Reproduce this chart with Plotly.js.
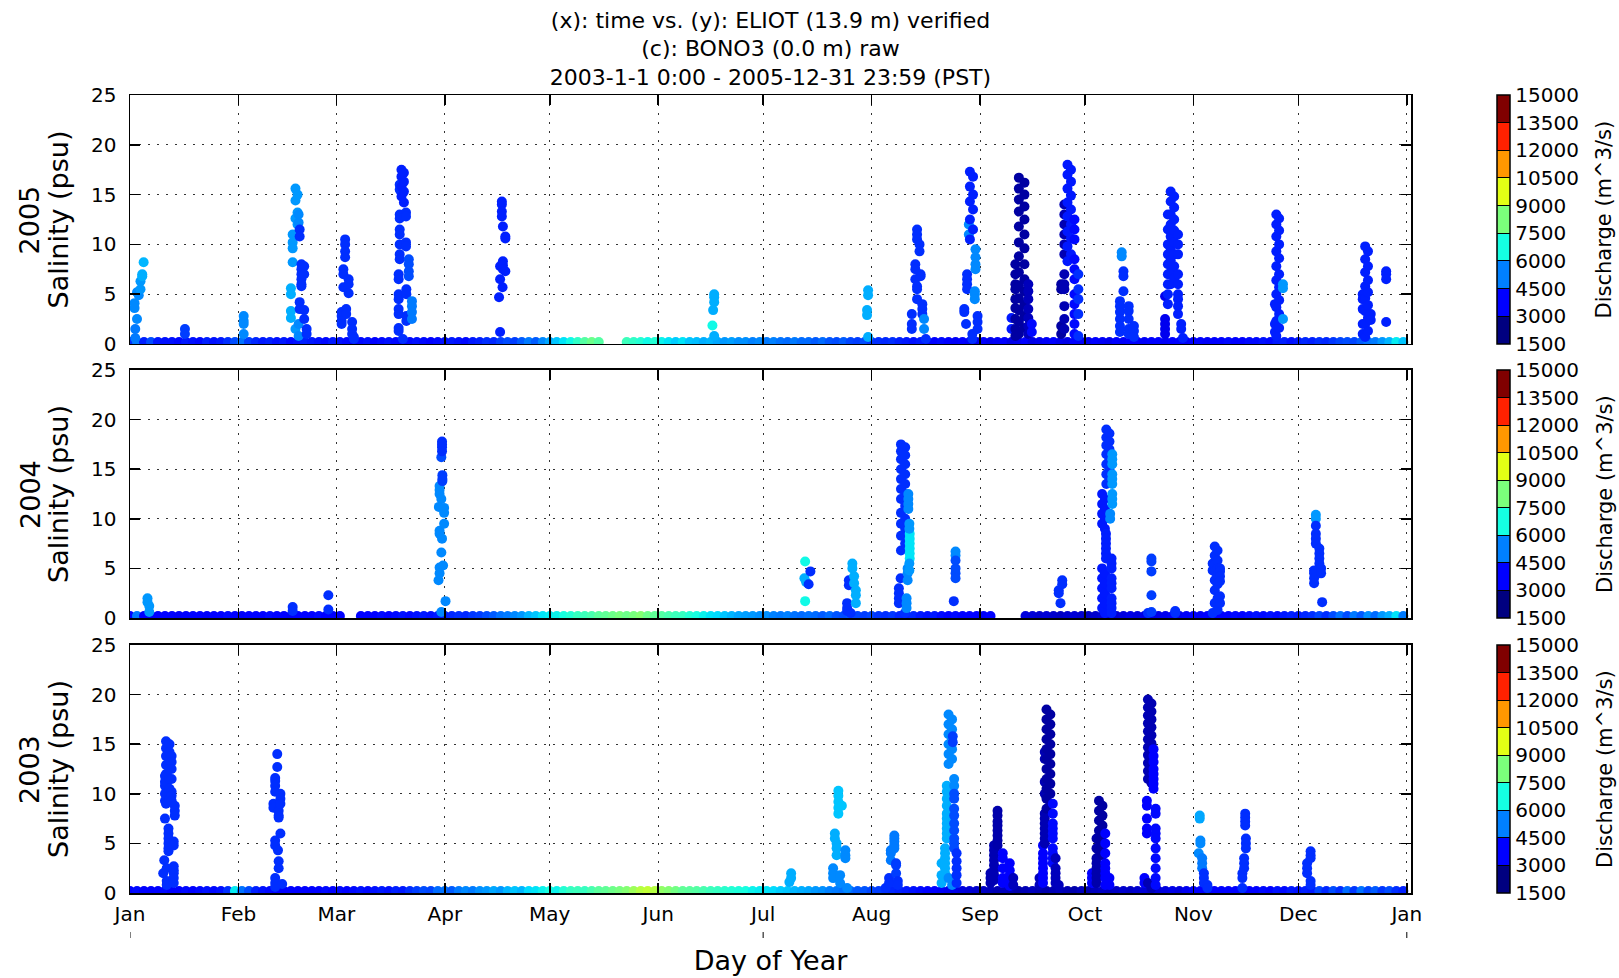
<!DOCTYPE html>
<html>
<head>
<meta charset="utf-8">
<script src="https://cdn.plot.ly/plotly-3.0.1.min.js"></script>
<style>html,body{margin:0;padding:0;background:#fff;}</style>
</head>
<body>
<div id="chart" style="width:1619px;height:978px;"></div>
<script>
// ---------- axis / label data ----------
const monthTickDays = [0,31,59,90,120,151,181,212,243,273,304,334,365];
const monthTickLabels = ['Jan','Feb','Mar','Apr','May','Jun','Jul','Aug','Sep','Oct','Nov','Dec','Jan'];
const halfYearTickDays = [0,181,365];
const salinityTicks = [0,5,10,15,20,25];
const dischargeTicks = [1500,3000,4500,6000,7500,9000,10500,12000,13500,15000];
const yearLabels = ['2005','2004','2003'];
const titleLines = ['(x): time vs. (y): ELIOT (13.9 m) verified','(c): BONO3 (0.0 m) raw','2003-1-1 0:00 - 2005-12-31 23:59 (PST)'];
const colorbarTitle = 'Discharge (m^3/s)';

// ---------- low-salinity baseline (every 2nd day of year) ----------
const baseDays = [
0,2,4,6,8,10,12,14,16,18,
20,22,24,26,28,30,32,34,36,38,
40,42,44,46,48,50,52,54,56,58,
60,62,64,66,68,70,72,74,76,78,
80,82,84,86,88,90,92,94,96,98,
100,102,104,106,108,110,112,114,116,118,
120,122,124,126,128,130,132,134,136,138,
140,142,144,146,148,150,152,154,156,158,
160,162,164,166,168,170,172,174,176,178,
180,182,184,186,188,190,192,194,196,198,
200,202,204,206,208,210,212,214,216,218,
220,222,224,226,228,230,232,234,236,238,
240,242,244,246,248,250,252,254,256,258,
260,262,264,266,268,270,272,274,276,278,
280,282,284,286,288,290,292,294,296,298,
300,302,304,306,308,310,312,314,316,318,
320,322,324,326,328,330,332,334,336,338,
340,342,344,346,348,350,352,354,356,358,
360,362,364];

const baseQ2005 = [
3800,4800,3600,4200,3500,3400,3400,3300,3500,3400,
3300,3600,3400,3500,3800,4200,4700,4000,3700,3500,
3600,3400,3500,3300,3400,3600,3500,3400,3300,3500,
3400,3300,3200,3300,3400,3200,3300,3400,3300,3200,
3300,3400,3300,3200,3300,3400,3500,3400,3300,3500,
3600,3800,3700,4000,4200,4000,4400,4800,4400,5000,
5400,5800,6200,6500,7000,7600,8000,7600,7600,7600,
7600,7200,7000,6800,6500,6800,6400,6200,5900,6200,
5800,5700,5500,5600,5400,5200,5300,5100,5100,4900,
5000,4800,4900,4700,4600,4800,4600,4600,4400,4600,
4300,4200,4400,4100,4000,4200,3900,3800,3700,3800,
3600,3500,3400,3500,3300,3200,3300,3100,2900,3100,
2900,2800,3100,2800,2900,3100,2700,2800,3100,2700,
2800,2900,3100,2800,2700,3100,2900,2800,3100,2900,
2800,3100,2900,3100,3200,2900,3100,3200,2900,3100,
3200,2900,3100,3200,2900,3100,3200,3300,3100,3200,
3300,3300,3400,3300,3500,3600,3400,3500,3700,3600,
3800,3700,3900,4100,4200,4100,4400,4700,4800,5200,
5600,6300,5800];
const baseSal2005 = [
0.2,0.2,0.2,0.2,0.2,0.2,0.2,0.2,0.2,0.2,
0.2,0.2,0.2,0.2,0.2,0.2,0.2,0.2,0.2,0.2,
0.2,0.2,0.2,0.2,0.2,0.2,0.2,0.2,0.2,0.2,
0.2,0.2,0.2,0.2,0.2,0.2,0.2,0.2,0.2,0.2,
0.2,0.2,0.2,0.2,0.2,0.2,0.2,0.2,0.2,0.2,
0.2,0.2,0.2,0.2,0.2,0.2,0.2,0.2,0.2,0.2,
0.2,0.2,0.2,0.2,0.2,0.2,0.2,0.2,null,null,
null,0.2,0.2,0.2,0.2,0.2,0.2,0.2,0.2,0.2,
0.2,0.2,0.2,0.2,0.2,0.2,0.2,0.2,0.2,0.2,
0.2,0.2,0.2,0.2,0.2,0.2,0.2,0.2,0.2,0.2,
0.2,0.2,0.2,0.2,0.2,0.2,0.2,0.2,0.2,0.2,
0.2,0.2,0.2,0.2,0.2,0.2,0.2,0.2,0.2,0.2,
0.2,0.2,0.2,0.2,0.2,0.2,0.2,0.2,0.2,0.2,
0.2,0.2,0.2,0.2,0.2,0.2,0.2,0.2,0.2,0.2,
0.2,0.2,0.2,0.2,0.2,0.2,0.2,0.2,0.2,0.2,
0.2,0.2,0.2,0.2,0.2,0.2,0.2,0.2,0.2,0.2,
0.2,0.2,0.2,0.2,0.2,0.2,0.2,0.2,0.2,0.2,
0.2,0.2,0.2,0.2,0.2,0.2,0.2,0.2,0.2,0.2,
0.2,0.2,0.2];

const baseQ2004 = [
3200,4800,3100,2900,3100,3200,3100,2900,3100,3200,
3100,2900,3100,3200,3300,3100,2900,3100,3200,3100,
3300,3200,3100,2900,3100,3200,3100,3300,3200,3100,
3100,3100,3100,3100,3200,3100,3300,3200,3300,3400,
3300,3400,3500,3400,3500,3600,3700,3800,3700,3900,
4000,4200,4400,4700,4800,5000,5200,5600,5800,6200,
6300,6400,6600,6800,7100,7200,7400,7700,7800,8000,
8200,8000,8200,8400,8000,7800,7600,7400,7200,7100,
6800,6600,6400,6200,6100,5800,5600,5400,5300,5200,
5100,5100,4900,4800,4900,4700,4600,4700,4600,4400,
4600,4300,4200,4300,4100,4000,4100,3900,3800,3900,
3700,3600,3700,3500,3400,3500,3300,3200,3300,3100,
3100,3100,2900,3100,2900,2900,2900,2900,2600,2500,
2400,2500,2400,2300,2400,2500,2400,2300,2400,2500,
2600,2500,2600,2700,2600,2700,2800,2700,2800,2900,
2800,2900,3100,2900,3100,3200,3100,3200,3300,3200,
3300,3400,3300,3400,3300,3500,3600,3500,3700,3800,
4100,3800,4200,4700,4200,4800,4400,5100,4600,5200,
5500,6200,4800];
const baseSal2004 = [
0.2,0.2,0.2,0.2,0.2,0.2,0.2,0.2,0.2,0.2,
0.2,0.2,0.2,0.2,0.2,0.2,0.2,0.2,0.2,0.2,
0.2,0.2,0.2,0.2,0.2,0.2,0.2,0.2,0.2,0.2,
0.2,null,null,0.2,0.2,0.2,0.2,0.2,0.2,0.2,
0.2,0.2,0.2,0.2,0.2,0.2,0.2,0.2,0.2,0.2,
0.2,0.2,0.2,0.2,0.2,0.2,0.2,0.2,0.2,0.2,
0.2,0.2,0.2,0.2,0.2,0.2,0.2,0.2,0.2,0.2,
0.2,0.2,0.2,0.2,0.2,0.2,0.2,0.2,0.2,0.2,
0.2,0.2,0.2,0.2,0.2,0.2,0.2,0.2,0.2,0.2,
0.2,0.2,0.2,0.2,0.2,0.2,0.2,0.2,0.2,0.2,
0.2,0.2,0.2,0.2,0.2,0.2,0.2,0.2,0.2,0.2,
0.2,0.2,0.2,0.2,0.2,0.2,0.2,0.2,0.2,0.2,
0.2,0.2,0.2,0.2,null,null,null,null,0.2,0.2,
0.2,0.2,0.2,0.2,0.2,0.2,0.2,0.2,0.2,0.2,
0.2,0.2,0.2,0.2,0.2,0.2,0.2,0.2,0.2,0.2,
0.2,0.2,0.2,0.2,0.2,0.2,0.2,0.2,0.2,0.2,
0.2,0.2,0.2,0.2,0.2,0.2,0.2,0.2,0.2,0.2,
0.2,0.2,0.2,0.2,0.2,0.2,0.2,0.2,0.2,0.2,
0.2,0.2,0.2];

const baseQ2003 = [
3200,3300,3200,3100,3200,3300,3100,3200,3300,3200,
3300,3400,3300,3400,3800,6300,4700,4200,3600,3400,
3300,3200,3100,3200,3100,3200,3100,3200,3300,3200,
3300,3200,3300,3400,3300,3400,3500,3400,3600,3500,
3800,4000,4200,4100,4600,4700,4400,4800,5000,4800,
5100,5200,5400,5200,5600,5800,5600,6100,6200,6400,
6600,6400,6800,7100,7200,7100,7400,7700,7800,8000,
8200,8400,8800,9200,9400,9200,8600,8400,8100,7800,
7700,7600,7400,7200,7100,6900,6800,6700,6600,6400,
6300,6200,6100,5900,5800,5600,5500,5400,5200,5100,
4900,4800,4700,4600,4400,4300,4100,4000,3900,3700,
3600,3500,3400,3300,3200,3100,2900,2800,2700,2600,
2500,2400,2300,2200,2100,2200,2100,2000,2100,2200,
2100,2000,2100,2200,2100,2000,2200,2100,2200,2300,
2200,2300,2400,2300,2400,2500,2400,2500,2600,2700,
2600,2800,2900,3100,2900,3100,3100,3200,3100,3200,
3100,3200,3300,3200,3400,3300,3500,3400,3600,3500,
4100,3700,4200,3800,4600,3900,4700,4100,4400,3900,
4200,3800,3600];
const baseSal2003 = [
0.2,0.2,0.2,0.2,0.2,0.2,0.2,0.2,0.2,0.2,
0.2,0.2,0.2,0.2,0.2,0.2,0.2,0.2,0.2,0.2,
0.2,0.2,0.2,0.2,0.2,0.2,0.2,0.2,0.2,0.2,
0.2,0.2,0.2,0.2,0.2,0.2,0.2,0.2,0.2,0.2,
0.2,0.2,0.2,0.2,0.2,0.2,0.2,0.2,0.2,0.2,
0.2,0.2,0.2,0.2,0.2,0.2,0.2,0.2,0.2,0.2,
0.2,0.2,0.2,0.2,0.2,0.2,0.2,0.2,0.2,0.2,
0.2,0.2,0.2,0.2,0.2,0.2,0.2,0.2,0.2,0.2,
0.2,0.2,0.2,0.2,0.2,0.2,0.2,0.2,0.2,0.2,
0.2,0.2,0.2,0.2,0.2,0.2,0.2,0.2,0.2,0.2,
0.2,0.2,0.2,0.2,0.2,0.2,0.2,0.2,0.2,0.2,
0.2,0.2,0.2,0.2,0.2,0.2,0.2,0.2,0.2,0.2,
0.2,0.2,0.2,0.2,0.2,0.2,0.2,0.2,0.2,0.2,
0.2,0.2,0.2,0.2,0.2,0.2,0.2,0.2,0.2,0.2,
0.2,0.2,0.2,0.2,0.2,0.2,0.2,0.2,0.2,0.2,
0.2,0.2,0.2,0.2,0.2,0.2,0.2,0.2,0.2,0.2,
0.2,0.2,0.2,0.2,0.2,0.2,0.2,0.2,0.2,0.2,
0.2,0.2,0.2,0.2,0.2,0.2,0.2,0.2,0.2,0.2,
0.2,0.2,0.2];

// ---------- salinity intrusion events: [day of year, discharge, [salinity readings]] ----------
const spikes2005 = [
[1.3,5000,[3.6,4.1]],[1.5,4800,[1.5,0.6]],[2.0,5000,[2.5,5.2]],[2.5,5000,[4.9]],[3.0,5200,[5.5,6.3]],[3.5,5500,[6.8,7.0]],[3.9,5600,[8.2]],
[15.7,4000,[1.5,1.0]],
[32.5,5000,[1.0,2.0,2.3,2.8]],
[46.0,5500,[5.6,5.0,3.3,2.6]],[46.5,5200,[11.0,10.2,9.6,8.2]],[47.3,5200,[15.6,14.4,12.6,1.5]],[47.9,5200,[15.0,13.2,12.0]],[48.2,5000,[13.0,12.2,2.0,0.8]],
[48.5,3800,[11.5,10.8,4.2,3.5]],[49.0,3800,[8.0,7.5,7.0,6.5,6.0,5.8]],[49.8,3800,[7.8,7.0,3.4,2.5]],[50.5,3800,[1.5,1.0]],
[60.5,3800,[3.2,2.8,2.3,2.0]],[61.0,3800,[7.5,7.0,5.7]],[61.5,3800,[10.5,10.0,9.3,8.7]],[61.8,3800,[3.5,3.0]],[62.5,3800,[6.5,6.0,5.1]],[63.5,3800,[2.2,1.5,1.0]],[64.0,3800,[0.7,0.5]],
[76.8,3800,[7.0,6.5,5.0,4.5,3.5,3.0,1.6,1.3]],[77.1,3800,[16.0,15.5,13.0,12.6,11.5,11.0,10.0,9.0,8.5]],[77.6,3600,[17.5,16.8,15.8,14.8]],[78.3,3600,[17.2,16.3,15.3,14.2]],[78.0,3800,[0.5]],
[78.9,3800,[13.2,12.8,10.2,9.8]],[79.0,3800,[5.5,5.0,2.8,2.3]],[79.7,4200,[8.5,8.0,7.3,6.8]],[80.6,4800,[4.3,3.8,3.2,2.5]],
[105.5,3600,[4.7]],[105.8,3600,[7.8,6.5,1.2]],[106.3,3600,[14.3,14.0,13.3,12.8]],[106.6,3600,[11.8,8.3,7.9,7.5]],[106.5,3600,[5.7]],[107.3,3600,[10.8,10.6,7.3]],
[167.0,5500,[5.0,4.7,4.2]],[166.7,5500,[3.4]],[166.5,6500,[1.85]],[167.0,5500,[0.8]],
[211.0,5500,[5.4,4.9]],[210.7,5500,[3.4,2.9]],[211.0,5500,[0.7]],
[223.5,3800,[3.0,2.0,1.5]],[224.5,3800,[8.0,7.5,6.5]],[225.0,3800,[11.5,11.0,10.5,5.8,5.5,4.5]],[225.7,3800,[10.0,9.3]],[226.0,3800,[7.0,6.8]],[226.5,3800,[4.0,3.5,3.0]],[227.0,5000,[2.5,1.5]],[227.5,3800,[0.5]],
[238.5,3800,[3.5,3.2]],[239.0,3800,[2.0]],[239.3,3800,[7.0,6.5,6.0,5.5]],[239.8,5000,[12.0,11.0]],[240.1,3600,[17.3,15.8,14.3,12.5,10.5]],[241.0,3600,[16.8,15.0,13.5,11.5]],[240.8,3800,[1.0,0.5]],[241.5,5000,[5.3,5.0,4.5]],[241.7,5000,[9.5,8.7,8.0,7.5]],[242.3,3800,[2.8,2.2,1.5]],
[252.0,3500,[2.6,1.5]],[253.1,1900,[8.0,7.0,6.0,5.5,4.5,3.6,2.5,1.5,0.8]],[254.1,1900,[16.7,15.6,14.5,13.3,11.8,10.2,8.8,7.2,5.9,4.6,3.4,2.2,1.0]],[255.7,1900,[16.2,15.0,13.8,12.5,11.0,9.6,8.0,6.5,5.3,4.0,2.8,1.6]],[256.8,2200,[6.0,5.3,4.5,3.5,2.6,1.8,1.0]],[257.8,3300,[2.0,1.2]],
[266.2,1900,[6.0,5.5,1.8,1.0]],[267.1,2100,[14.0,13.0,12.0,11.0,10.0,9.0,7.0,6.0,5.5,3.8,2.5,1.5]],[268.0,3500,[18.0,17.0,15.6,14.2,12.8,11.3,9.8,8.3]],[269.0,3500,[17.5,16.3,14.9,13.5,12.0,10.6,9.0]],[270.0,3300,[12.5,11.5,10.5,8.5,7.5,6.5,5.0,4.0,3.0,2.0,1.0]],[271.1,3800,[7.0,5.5,4.5,3.0,0.8]],
[283.0,3800,[4.3,3.8,3.2,2.5,1.8,1.2]],[283.5,5000,[9.2,8.8]],[284.0,3800,[7.3,6.8,5.3]],[285.5,3800,[3.8,3.3,2.5,1.5,1.0]],[287.0,3800,[1.8,1.3,0.7]],
[295.9,2800,[4.8,2.5,2.0,1.5,1.0]],[296.7,3600,[13.0,11.5,10.0,9.0,8.0,7.0,6.0,5.0,4.0]],[297.5,3600,[15.3,14.3,13.0,12.0,10.8,9.6,8.4,7.2,6.0]],[298.5,3600,[14.8,13.7,12.5,11.4,10.2,9.0,7.8,6.6]],[299.6,3600,[11.0,10.0,9.0,7.0,6.0,5.0,4.5,3.8,3.0]],[300.5,3600,[2.0,1.5]],[301.0,3600,[0.6]],
[327.3,3600,[4.0,2.0,1.2]],[327.7,3600,[13.0,12.0,10.8,9.3,7.8,6.4,5.0,3.7,2.3,0.8]],[328.5,3600,[12.6,11.4,10.0,8.6,7.0,5.7,4.4,3.0,1.6]],[329.6,5200,[6.0,5.6,2.5]],
[352.4,3600,[5.0,4.5,3.5,2.0,1.0]],[353.1,3600,[9.8,8.5,7.2,5.8,4.6,3.3,2.0,0.7]],[353.9,3600,[9.3,7.8,6.4,5.2,3.9,2.6,1.3]],[354.7,3600,[3.0,2.4]],
[359.1,3600,[7.3,7.0,6.5,2.2]]
];

const spikes2004 = [
[5.0,5200,[2.0,1.6]],[5.5,5200,[1.2,0.6]],
[46.5,3800,[1.1,0.7]],
[56.7,3800,[2.3,0.85]],
[88.2,5000,[3.8]],[88.3,5000,[11.2]],[88.5,5000,[13.3,12.9,12.5,8.8,8.5,5.1,4.5]],[89.0,5000,[12.0,6.6,0.6]],[89.0,4200,[16.2]],[89.2,3800,[17.8,17.5,17.2,16.8]],[89.2,5000,[8.0]],[89.3,4000,[14.4,14.0,13.8]],[89.5,5000,[5.3]],[89.8,5000,[11.1,10.6,9.5]],[90.2,5000,[1.7]],
[192.8,5500,[4.0]],[193.0,6500,[5.7,1.7]],[193.3,5500,[3.6]],[194.0,3800,[3.4]],[194.5,3800,[4.7]],
[205.0,3800,[1.5,1.0,0.7]],[205.5,3800,[3.8,3.3]],[206.0,3800,[0.5]],[206.5,5500,[5.5,5.0]],[207.0,5500,[4.2,3.5]],[207.5,5500,[2.8,2.3,1.5]],
[219.8,3800,[3.0,2.5,2.0,1.5]],[220.3,3800,[4.0]],[220.4,3800,[17.5,16.8,16.0,15.0,14.0,13.0,12.0,10.6,9.5,8.3,6.8]],[221.6,3800,[17.2,16.4,15.5,14.5,13.5,12.5,11.3,10.0,9.0,7.5]],[221.5,3800,[0.5]],
[222.0,5000,[2.0,1.5,1.0]],[222.3,5000,[5.0,4.5,3.8]],[222.5,5000,[12.5,12.0,11.5,11.0]],[222.9,6200,[8.5,8.0,7.5,7.0,6.5,6.0]],[222.8,5200,[9.5,9.0,5.5,4.8]],
[235.5,3800,[1.7]],[236.0,5000,[6.7,6.3]],[236.0,4200,[5.8,5.0,4.5,4.0]],
[265.5,3800,[2.8,2.5]],[266.0,3800,[1.5]],[266.5,3800,[3.8,3.4]],
[277.9,3500,[12.5,11.5,10.5,9.5,5.0,4.0,3.0,2.0,1.0]],[278.7,3500,[12.0,11.0,10.0,9.0,4.5,3.5,2.5,1.5,0.5]],[279.0,3600,[8.5,8.0,7.5,7.0,6.5,6.0]],
[279.1,3800,[19.0,18.2,17.4,16.5,15.5,14.5,13.5]],[280.0,3800,[18.6,17.8,17.0,16.0,15.0,14.0]],
[280.2,5000,[10.5,10.0]],[280.8,5200,[16.5,16.0,15.5,14.5,14.0,13.5,12.5,12.0,11.5]],[280.6,3600,[6.0,5.5,5.0,4.0,3.5,3.0,2.0,1.5,1.0,0.5]],
[291.0,3800,[0.5]],[292.0,4000,[6.0,5.7,4.7,2.3,0.6]],
[298.8,3800,[0.7,0.5]],
[309.5,3800,[5.5,4.8,0.5]],[310.1,3800,[7.2,6.3,5.4,4.7,3.8,2.8,1.5]],[310.9,3800,[6.8,5.8,5.0,4.3,3.4,2.0,0.8]],[311.6,3800,[5.0,4.7,4.2,3.7,2.2,1.5]],
[338.5,3800,[4.8,4.5,4.0,3.5]],[339.0,5200,[10.4,10.0]],[339.0,3800,[9.3,8.5,8.0,7.5]],[340.0,3800,[7.0,6.5,6.0,5.5,5.0]],[340.5,3800,[5.0,4.5]],[340.8,3800,[1.6]]
];

const spikes2003 = [
[9.5,3800,[2.0]],[9.8,3800,[3.3]],[10.0,3800,[11.8,11.2,10.8,10.0,9.3,7.5]],[10.5,3800,[2.5,1.2,0.8]],[10.3,3800,[15.3,14.6,13.8,12.9,12.0,11.0,10.0,9.0]],[11.3,3800,[15.0,14.2,13.4,12.5,11.5,10.5,9.5]],
[11.0,3800,[6.5,6.0,5.5,5.0,4.5,4.2]],[11.9,3800,[13.8,13.2,12.5,11.5,10.2,9.8,9.3]],[12.5,3800,[5.2,4.8,2.7,2.3,2.0,1.5,1.0]],[12.8,3800,[8.8,8.3,7.8]],
[41.0,3800,[9.0,8.6]],[41.5,3800,[11.6,11.3,10.8,10.2,5.3,4.8,1.5,1.0,0.6]],[42.1,3800,[14.0,12.7]],[42.3,3800,[4.3]],[42.5,3800,[8.3,7.8,7.6,3.2,2.5]],[43.0,3800,[10.0,9.5,9.0,6.0]],[43.5,3800,[0.9]],
[188.5,5500,[1.1]],[189.0,5500,[2.0,1.5]],
[201.0,5000,[2.5,2.0,1.5]],[201.5,5500,[6.0,5.5]],[202.0,5500,[5.0,4.5,3.8]],[202.5,5800,[10.3,9.8,9.2,8.6,8.0]],[203.0,5000,[1.8,1.0]],[203.5,5800,[8.8]],[204.5,5000,[4.3,3.8,3.5]],[205.0,5000,[0.5]],
[216.0,3800,[0.5]],[217.0,3800,[1.5,1.0]],[217.5,4800,[4.3,4.0,3.3]],[218.5,4800,[5.8,5.5,5.2,4.8,4.5]],[219.0,4000,[3.0,2.8,2.0]],[219.5,3800,[1.2,0.8]],
[232.0,5500,[3.0,1.8,1.0]],[233.0,5500,[4.5,4.0,3.5,3.0,2.5,2.0]],[233.5,5500,[10.8,10.2,9.5,8.8,8.0,7.5,7.0,6.5,6.0,5.5]],[234.0,5000,[18.0,17.0,16.0,15.0,14.0,13.0,1.5]],[235.0,5000,[17.5,16.5,15.5,14.5,13.5,0.8]],
[235.2,4000,[15.8,15.2]],[235.6,5000,[11.5,10.8]],[235.6,4200,[10.0,9.5,8.5,7.8,7.0,6.3,5.5,5.0,4.5]],[236.3,3800,[4.0,3.2,2.5,1.8,1.0]],
[246.0,2100,[2.0,1.5,1.0]],[247.0,2100,[4.8,4.3,3.8,3.3,2.8,2.3,1.8,1.3]],[248.0,2000,[8.3,7.8,7.2,6.8,6.3,5.8,5.3,4.8]],[249.5,3000,[4.0,3.5,2.5,1.5,1.0]],[251.5,3000,[3.0,2.3,1.8,1.2,0.7]],[252.5,2200,[1.5,0.8]],
[260.0,2200,[1.5,0.8]],[261.0,3000,[4.8,4.0,3.5,3.0,2.5,2.0,1.5,1.0]],[261.5,2100,[14.2,13.5,11.2,10.0,8.0,7.5,7.0,6.5,6.0,5.5,5.0]],
[262.0,1900,[18.5,17.5,16.5,15.5,14.5,13.5,12.5,11.5,10.5,9.5,8.5]],[263.1,1900,[18.0,17.0,16.0,15.0,14.0,13.0,12.0,11.0,10.0,9.0]],[263.8,3300,[9.0,8.0,7.0,6.5,6.0,5.5,4.5,4.0,3.5,3.0]],[264.6,2200,[3.5,2.5,2.0,1.5,1.0]],[265.5,2200,[0.8]],
[275.0,3000,[2.0,1.5,1.0]],[276.3,2000,[5.5,4.5,3.5,3.0,2.5,2.0,1.5,1.0]],[277.0,1900,[9.3,8.3,7.3,6.3,5.3,4.3]],[278.0,1900,[8.8,7.8,6.8,5.8,4.8,3.8]],[278.8,3000,[6.0,5.0,4.0,3.0,2.5,2.0,1.5,0.8]],[280.0,3000,[1.5,0.8]],
[290.0,3000,[1.5,1.0]],[290.7,3000,[9.3,8.8,7.5,6.5,6.0]],[291.0,2100,[19.5,18.7,17.9,17.1,16.3,15.5,14.7,13.9,13.1,12.3,11.5,1.0]],[292.0,2100,[19.1,18.3,17.5,16.7,15.9,15.1,14.3,13.5,12.7,11.9,11.1,0.5]],
[292.6,3000,[14.5,13.8,13.2,12.5,12.0,11.5,11.0,10.5]],[293.2,3300,[8.5,8.0,6.5,6.0,5.5,4.5,3.5,2.5,1.5,0.8]],
[305.5,5000,[4.0]],[305.8,5400,[7.8,7.5]],[306.0,5000,[5.3,5.0]],[306.5,4800,[3.5,3.0,2.5]],[307.0,3800,[2.0,1.5,1.0]],[308.0,3800,[0.8,0.5]],
[318.0,3800,[2.0,1.5,0.5]],[318.5,3800,[3.5,3.0,2.5]],[318.8,3800,[8.0,7.6,7.2,6.8]],[319.0,3800,[5.5,5.0,4.5]],
[336.5,3800,[3.0,2.5,2.0]],[337.5,3800,[4.2,3.8,3.5,1.2,0.8]]
];

// ---------- colour scales: continuous jet for points, 9-band jet for the colour bars ----------
const jetStops = [
[0,'rgb(0,0,128)'],[0.11,'rgb(0,0,255)'],[0.125,'rgb(0,0,255)'],[0.34,'rgb(0,219,255)'],
[0.35,'rgb(0,230,247)'],[0.375,'rgb(21,255,226)'],[0.64,'rgb(238,255,8)'],[0.65,'rgb(247,246,0)'],
[0.66,'rgb(255,236,0)'],[0.89,'rgb(255,19,0)'],[0.91,'rgb(232,0,0)'],[1,'rgb(128,0,0)']];
const bandColors = ['rgb(0,0,128)','rgb(0,0,255)','rgb(0,128,255)','rgb(21,255,226)','rgb(123,255,123)','rgb(226,255,21)','rgb(255,151,0)','rgb(255,33,0)','rgb(128,0,0)'];
const jetBands = [];
bandColors.forEach((c,i)=>{ jetBands.push([i/9,c]); jetBands.push([(i+1)/9,c]); });

const panelDomains = [[0.688,1.0],[0.3446,0.6554],[0.0,0.3108]];
const FONT = 'DejaVu Sans';
const axisId = k => (k===0 ? '' : String(k+1));

function buildTrace(spikes, baseQ, baseSal, k) {
  const x=[], y=[], c=[];
  baseDays.forEach((d,i)=>{ if (baseSal[i] !== null) { x.push(d); y.push(baseSal[i]); c.push(baseQ[i]); } });
  spikes.forEach(([d,q,list])=>{ list.forEach(s=>{ x.push(d); y.push(s); c.push(q); }); });
  return {
    type:'scatter', mode:'markers', x:x, y:y, name:yearLabels[k],
    xaxis:'x'+axisId(k), yaxis:'y'+axisId(k),
    hoverinfo:'skip', cliponaxis:true,
    marker:{size:10, color:c, colorscale:jetStops, cmin:1500, cmax:15000, line:{width:0}, showscale:false}
  };
}

// colour-bar carrier (no visible points): shows the banded discharge scale beside each panel
function buildColorbar(k) {
  const dom = panelDomains[k];
  return {
    type:'scatter', mode:'markers', x:[null], y:[null], showlegend:false, hoverinfo:'skip',
    xaxis:'x'+axisId(k), yaxis:'y'+axisId(k),
    marker:{color:[dischargeTicks[0]], colorscale:jetBands, cmin:1500, cmax:15000, showscale:true,
      colorbar:{x:1.0671, xanchor:'left', xpad:0, y:(dom[0]+dom[1])/2, yanchor:'middle', ypad:0,
        len:dom[1]-dom[0], lenmode:'fraction', thickness:13,
        outlinewidth:1.5, outlinecolor:'#000',
        tickmode:'array', tickvals:dischargeTicks, ticktext:dischargeTicks.map(String),
        ticks:'inside', ticklen:13, tickwidth:1, tickcolor:'#000',
        tickfont:{family:FONT, size:20, color:'#000'},
        title:{text:''}
      }
    }
  };
}

const traces = [
  buildTrace(spikes2005, baseQ2005, baseSal2005, 0),
  buildTrace(spikes2004, baseQ2004, baseSal2004, 1),
  buildTrace(spikes2003, baseQ2003, baseSal2003, 2),
  buildColorbar(0), buildColorbar(1), buildColorbar(2)
];

function xAxis(k) {
  return {
    domain:[0,1], anchor:'y'+axisId(k),
    range:[0,366.2], tickmode:'array', tickvals:monthTickDays, ticktext:monthTickLabels,
    showticklabels: k===2, ticks:'inside', ticklen:10, tickwidth:1.5, tickcolor:'#000',
    showline:true, linecolor:'#000', linewidth:1.5, mirror:'ticks',
    showgrid:true, gridcolor:'#333', gridwidth:1, griddash:'2px,7px', zeroline:false,
    tickfont:{family:FONT, size:20, color:'#000'}, ticklabelstandoff:2, fixedrange:true,
    title: k===2 ? {text:'Day of Year', font:{family:FONT, size:27, color:'#000'}, standoff:26} : {text:''}
  };
}
function yAxis(k) {
  return {
    domain: panelDomains[k], anchor:'x'+axisId(k),
    range:[0,25], tickmode:'array', tickvals:salinityTicks,
    ticks:'inside', ticklen:10, tickwidth:1.5, tickcolor:'#000',
    showline:true, linecolor:'#000', linewidth:1.5, mirror:'ticks',
    showgrid:true, gridcolor:'#333', gridwidth:1, griddash:'2px,7px', zeroline:false,
    tickfont:{family:FONT, size:20, color:'#000'}, ticklabelstandoff:8, fixedrange:true,
    title:{text:'Salinity (psu)', font:{family:FONT, size:27, color:'#000'}, standoff:14}
  };
}

const annotations = [];
yearLabels.forEach((yr,k)=>{
  const yc = (panelDomains[k][0]+panelDomains[k][1])/2;
  annotations.push({text:yr, xref:'paper', yref:'paper', x:-0.0781, y:yc,
    xanchor:'center', yanchor:'middle', textangle:-90, showarrow:false,
    font:{family:FONT, size:27, color:'#000'}});
  annotations.push({text:colorbarTitle, xref:'paper', yref:'paper', x:1.1514, y:yc,
    xanchor:'center', yanchor:'middle', textangle:-90, showarrow:false,
    font:{family:FONT, size:21, color:'#000'}});
});

const shapes = halfYearTickDays.map(d=>({
  type:'line', xref:'x3', yref:'paper', x0:d, x1:d, y0:-0.0489, y1:-0.0564,
  line:{color:'#000', width:1}
}));

const layout = {
  width:1619, height:978,
  margin:{l:130, r:208, t:95, b:85},
  paper_bgcolor:'#fff', plot_bgcolor:'#fff',
  showlegend:false,
  font:{family:FONT, color:'#000'},
  title:{text:titleLines.join('<br>'), font:{family:FONT, size:22, color:'#000'},
    x:0.5, xref:'paper', xanchor:'center', y:1-27.5/978, yref:'container', yanchor:'middle'},
  xaxis:xAxis(0), xaxis2:xAxis(1), xaxis3:xAxis(2),
  yaxis:yAxis(0), yaxis2:yAxis(1), yaxis3:yAxis(2),
  annotations:annotations, shapes:shapes
};

Plotly.newPlot('chart', traces, layout, {displayModeBar:false, staticPlot:true});
</script>
</body>
</html>
